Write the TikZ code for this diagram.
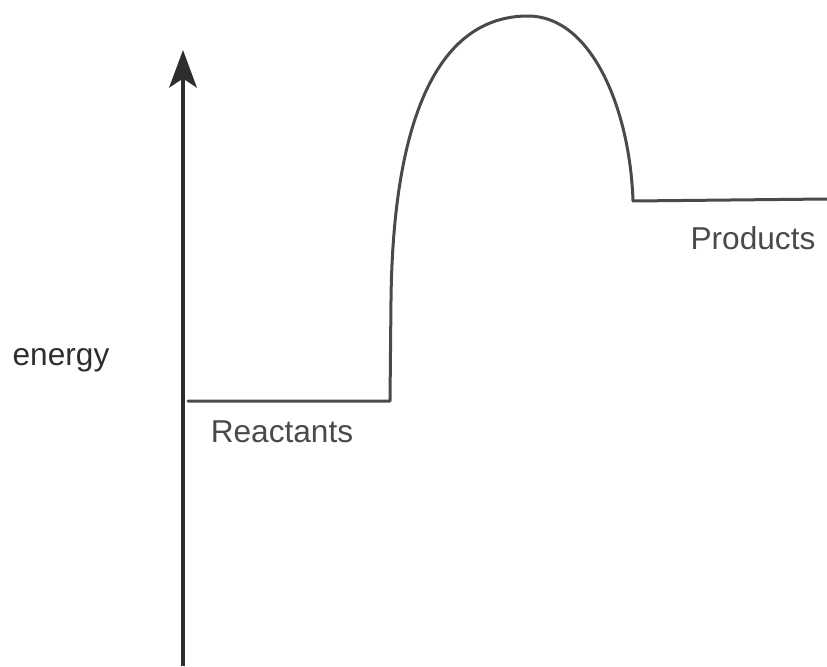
\documentclass[tikz,border=0pt]{standalone}
\usepackage{fontspec}
\setmainfont{Liberation Sans}
\usepackage{tikz}
\usetikzlibrary{positioning, arrows.meta}
\definecolor{inkdark}{HTML}{2E2E2E}
\definecolor{inkgray}{HTML}{4A4A4A}
\tikzset{
  axisline/.style={line width=0.08cm, draw=inkdark, -{Stealth[length=0.75cm, width=0.55cm, inset=0.18cm]}},
  curveline/.style={line width=0.06cm, draw=inkgray, line join=round, line cap=round},
  lbl/.style={font=\fontsize{18}{20}\selectfont, text=inkgray, inner sep=0pt},
  axlbl/.style={font=\fontsize{18}{20}\selectfont, text=inkdark, inner sep=0pt}
}

\begin{document}
\begin{tikzpicture}[x=0.02cm, y=-0.02cm]
  \useasboundingbox (0,0) rectangle (827,666);

  % Energy axis
  \coordinate (base) at (183,666);
  \coordinate (tip) at (183,50);
  \draw[axisline] (base) -- (tip);
  \node[axlbl] (energy) at (61,360) {energy};

  % Reaction path
  \coordinate (rstart) at (188,401);
  \coordinate (rend) at (390,401);
  \coordinate (climb) at (391,300);
  \coordinate (peak) at (528,16);
  \coordinate (pstart) at (633,201);
  \coordinate (pend) at (827,199);
  \draw[curveline] (rstart) -- (rend) -- (climb)
    .. controls (393,125) and (435,16) .. (peak)
    .. controls (592,16) and (630,110) .. (pstart) -- (pend);

  % Labels
  \node[lbl] (reactants) at (282,432) {Reactants};
  \node[lbl] (products) at (753,238) {Products};
\end{tikzpicture}
\end{document}
